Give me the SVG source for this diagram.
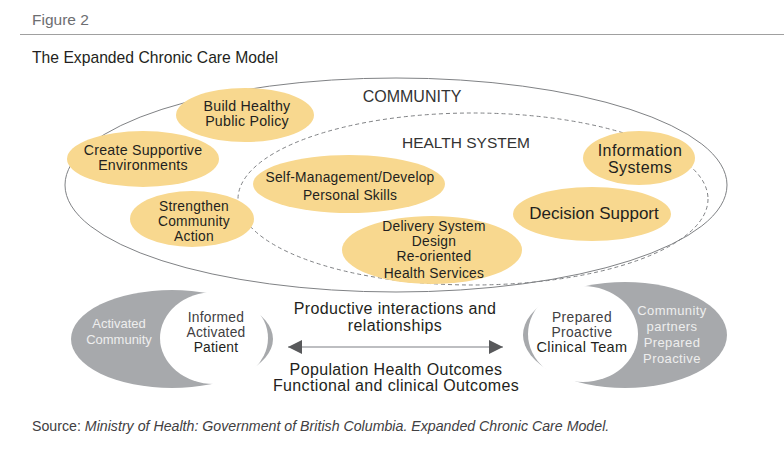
<svg xmlns="http://www.w3.org/2000/svg" width="784" height="462" viewBox="0 0 784 462">
<style>
text{font-family:"Liberation Sans",Arial,sans-serif;fill:#231f20}
.y{fill:#f8d88f}
.t{font-size:13.8px;letter-spacing:0.25px;text-anchor:middle}
.g{fill:#a7a9ac}
.w{fill:#fff}
.lt{fill:#eeeeee;font-size:13px;text-anchor:middle}
.c{font-size:16px;letter-spacing:0.35px;text-anchor:middle}
</style>
<defs>
<marker id="ah" viewBox="0 0 10 10" refX="10" refY="5" markerWidth="20" markerHeight="14" markerUnits="userSpaceOnUse" orient="auto-start-reverse">
<path d="M0,0L10,5L0,10Z" fill="#58595b"/>
</marker>
</defs>
<rect width="784" height="462" fill="#fff"/>
<g id="header">
<text x="32" y="25" style="font-size:15.5px;fill:#6d6e71">Figure 2</text>
<line x1="20" y1="34.5" x2="784" y2="34.5" stroke="#a0a0a0" stroke-width="1.2"/>
<text x="32" y="63" style="font-size:15.7px">The Expanded Chronic Care Model</text>
</g>
<g id="community">
<ellipse cx="396" cy="185" rx="331" ry="107" fill="none" stroke="#808285" stroke-width="1"/>
<text x="412" y="102" style="font-size:16px;text-anchor:middle;fill:#333">COMMUNITY</text>
</g>
<g id="health-system">
<ellipse cx="473" cy="199" rx="235" ry="86" fill="none" stroke="#808285" stroke-width="1" stroke-dasharray="4,3"/>
<text x="466" y="148" style="font-size:15.5px;text-anchor:middle;fill:#333">HEALTH SYSTEM</text>
</g>
<g id="build-healthy">
<ellipse class="y" cx="245" cy="115" rx="69" ry="27"/>
<text class="t" x="247" y="111" style="font-size:14.2px">Build Healthy</text>
<text class="t" x="247" y="126" style="font-size:14.2px">Public Policy</text>
</g>
<g id="supportive-env">
<ellipse class="y" cx="143" cy="159" rx="76" ry="28"/>
<text class="t" x="143" y="155" style="font-size:14.2px">Create Supportive</text>
<text class="t" x="143" y="170" style="font-size:14.2px">Environments</text>
</g>
<g id="strengthen">
<ellipse class="y" cx="192" cy="219" rx="62" ry="28"/>
<text class="t" x="194" y="211">Strengthen</text>
<text class="t" x="194" y="226">Community</text>
<text class="t" x="194" y="241">Action</text>
</g>
<g id="self-management">
<ellipse class="y" cx="349" cy="184" rx="96" ry="29"/>
<text class="t" x="350" y="182">Self-Management/Develop</text>
<text class="t" x="350" y="200">Personal Skills</text>
</g>
<g id="delivery">
<ellipse class="y" cx="432" cy="250" rx="90" ry="34"/>
<text class="t" x="434" y="231">Delivery System</text>
<text class="t" x="434" y="246">Design</text>
<text class="t" x="434" y="261">Re-oriented</text>
<text class="t" x="434" y="278">Health Services</text>
</g>
<g id="information">
<ellipse class="y" cx="639" cy="158" rx="56" ry="27"/>
<text x="640" y="156" style="font-size:16px;letter-spacing:0.4px;text-anchor:middle">Information</text>
<text x="640" y="173" style="font-size:16px;letter-spacing:0.4px;text-anchor:middle">Systems</text>
</g>
<g id="decision">
<ellipse class="y" cx="592" cy="214" rx="79" ry="27"/>
<text x="594" y="219" style="font-size:17px;text-anchor:middle">Decision Support</text>
</g>
<g id="patient">
<ellipse class="g" cx="172" cy="339" rx="101" ry="49"/>
<ellipse class="w" cx="214" cy="338" rx="54" ry="46"/>
<text class="lt" x="119" y="328">Activated</text>
<text class="lt" x="119" y="344">Community</text>
<text class="t" x="216" y="322" style="fill:#414042">Informed</text>
<text class="t" x="216" y="337" style="fill:#414042">Activated</text>
<text class="t" x="216" y="352">Patient</text>
</g>
<g id="team">
<ellipse class="g" cx="625" cy="335" rx="102" ry="53"/>
<ellipse class="w" cx="583" cy="334" rx="55" ry="48"/>
<text class="t" x="582" y="322" style="letter-spacing:0.4px;fill:#414042">Prepared</text>
<text class="t" x="582" y="337" style="letter-spacing:0.4px;fill:#414042">Proactive</text>
<text class="t" x="582" y="352" style="font-size:14.5px;letter-spacing:0.4px">Clinical Team</text>
<text class="lt" x="672" y="315" style="letter-spacing:0.4px">Community</text>
<text class="lt" x="672" y="331" style="letter-spacing:0.4px">partners</text>
<text class="lt" x="672" y="347" style="letter-spacing:0.4px">Prepared</text>
<text class="lt" x="672" y="363" style="letter-spacing:0.4px">Proactive</text>
</g>
<g id="connectors">
<line x1="288" y1="347" x2="503" y2="347" stroke="#a7a9ac" stroke-width="1.5" marker-start="url(#ah)" marker-end="url(#ah)"/>
</g>
<g id="outcomes">
<text class="c" x="395" y="314">Productive interactions and</text>
<text class="c" x="395" y="331">relationships</text>
<text class="c" x="396" y="375">Population Health Outcomes</text>
<text class="c" x="396" y="391">Functional and clinical Outcomes</text>
</g>
<g id="source">
<text x="32" y="431" style="font-size:14.2px;fill:#414042">Source: <tspan style="font-style:italic">Ministry of Health: Government of British Columbia. Expanded Chronic Care Model.</tspan></text>
</g>
</svg>
